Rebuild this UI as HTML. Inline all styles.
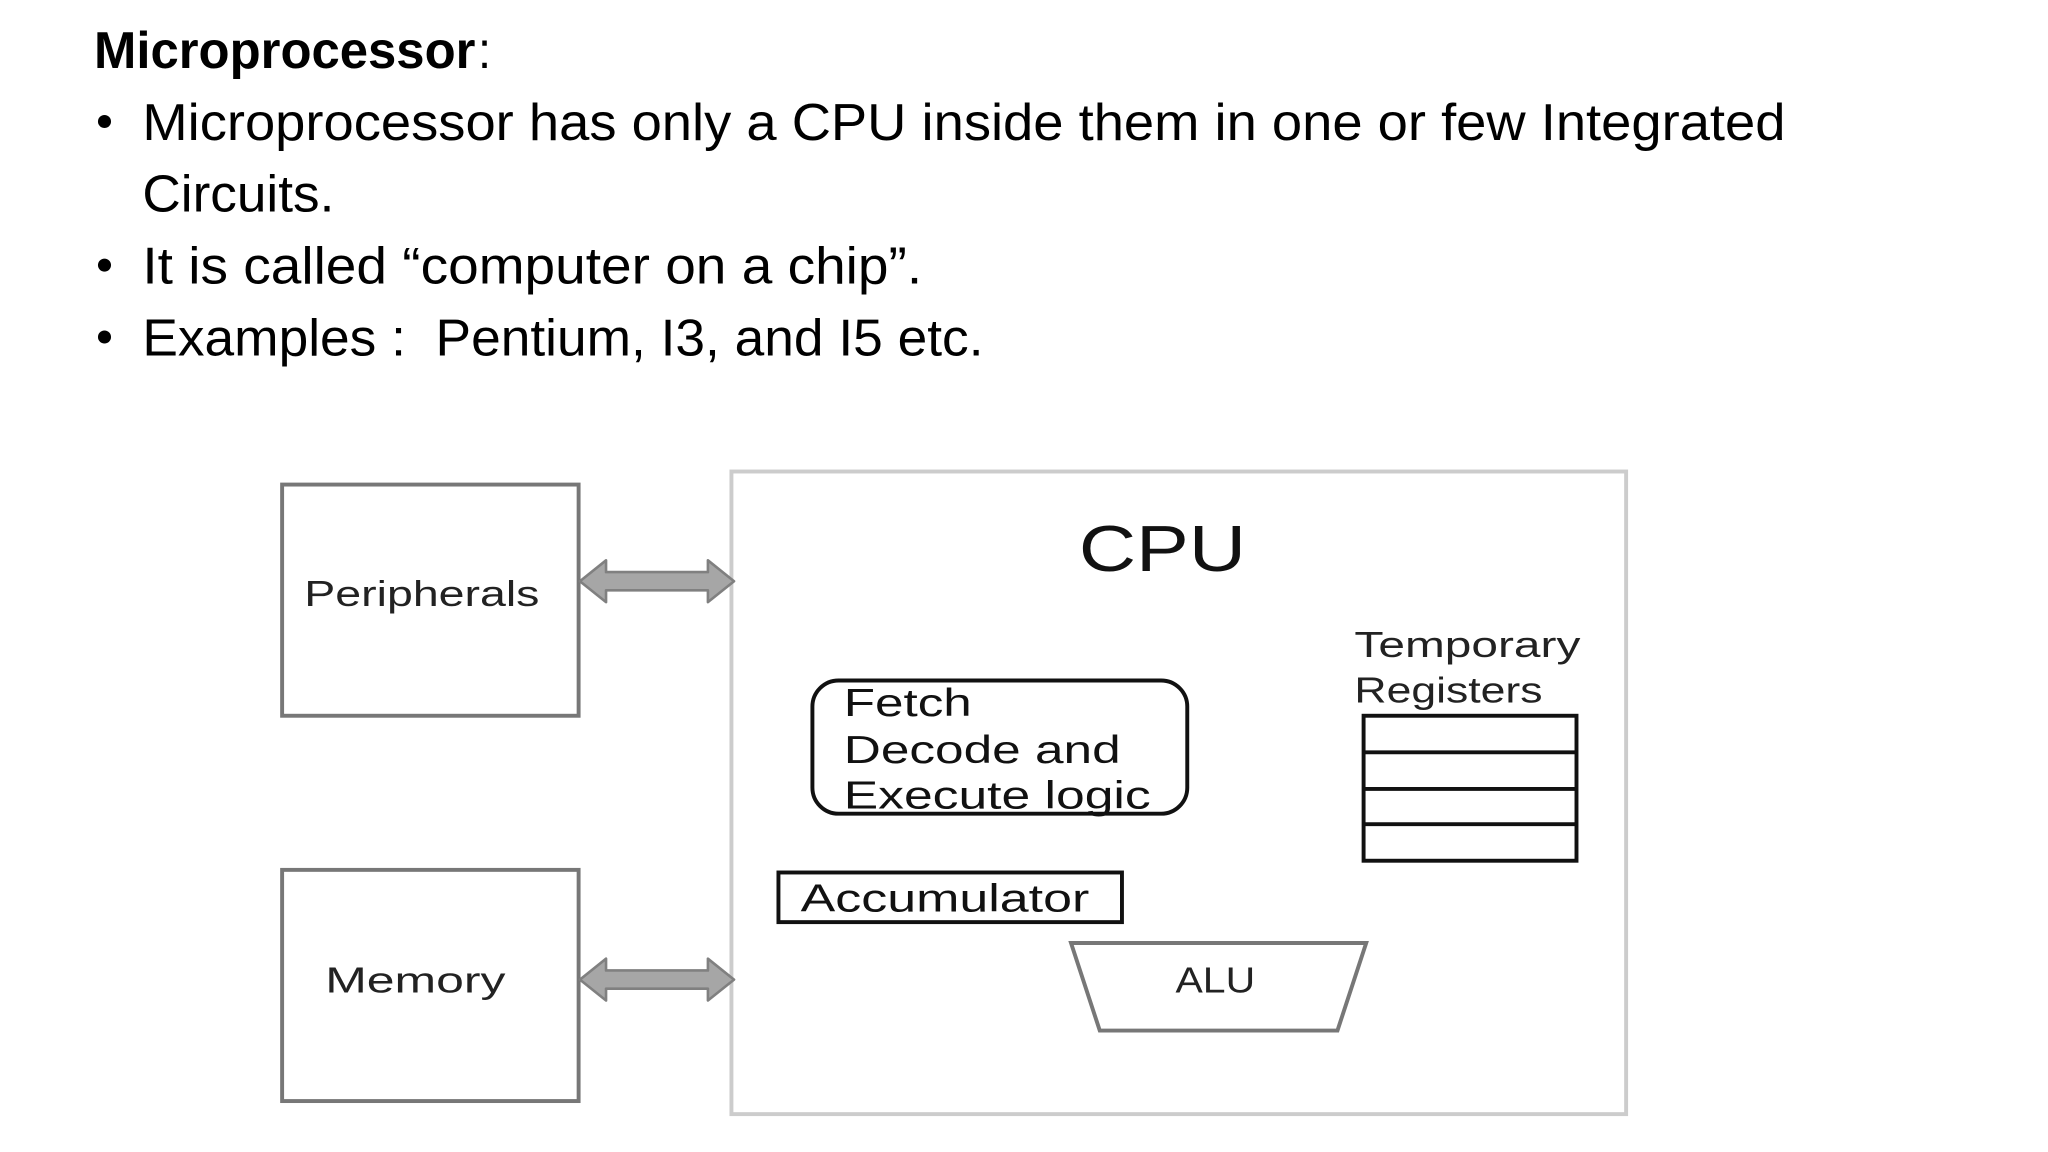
<!DOCTYPE html>
<html><head><meta charset="utf-8"><style>
html,body{margin:0;padding:0;background:#fff;}
svg{display:block;}
</style></head><body>
<svg width="2048" height="1152" viewBox="0 0 1568 882" xmlns="http://www.w3.org/2000/svg" font-family="Liberation Sans, sans-serif">
<rect width="1568" height="882" fill="#fff"/>
<g fill="#000" font-size="40">
<text x="72" y="52" font-weight="bold" textLength="292" lengthAdjust="spacingAndGlyphs">Microprocessor</text>
<text x="366" y="52" textLength="10" lengthAdjust="spacingAndGlyphs">:</text>
<circle cx="80" cy="93" r="5"/>
<text x="109" y="107" textLength="1258" lengthAdjust="spacingAndGlyphs">Microprocessor has only a CPU inside them in one or few Integrated</text>
<text x="109" y="162" textLength="147" lengthAdjust="spacingAndGlyphs">Circuits.</text>
<circle cx="80" cy="203" r="5"/>
<text x="109" y="217" textLength="597" lengthAdjust="spacingAndGlyphs">It is called “computer on a chip”.</text>
<circle cx="80" cy="258" r="5"/>
<text x="109" y="272" textLength="644" lengthAdjust="spacingAndGlyphs" xml:space="preserve">Examples :  Pentium, I3, and I5 etc.</text>
</g>
<!-- boxes -->
<rect x="216" y="371" width="227" height="177" fill="none" stroke="#777" stroke-width="3"/>
<rect x="216" y="666" width="227" height="177" fill="none" stroke="#777" stroke-width="3"/>
<rect x="560" y="361" width="685" height="492" fill="none" stroke="#ccc" stroke-width="3"/>
<text x="233" y="464" font-size="28" fill="#222" textLength="180" lengthAdjust="spacingAndGlyphs">Peripherals</text>
<text x="249" y="760" font-size="28" fill="#222" textLength="138" lengthAdjust="spacingAndGlyphs">Memory</text>
<text x="826" y="437" font-size="50" fill="#111" textLength="128" lengthAdjust="spacingAndGlyphs">CPU</text>
<!-- arrows -->
<g fill="#a6a6a6" stroke="#808080" stroke-width="2" stroke-linejoin="round">
<path d="M444,445 L464,429 L464,438 L542,438 L542,429 L562,445 L542,461 L542,452 L464,452 L464,461 Z"/>
<path d="M444,750 L464,734 L464,743 L542,743 L542,734 L562,750 L542,766 L542,757 L464,757 L464,766 Z"/>
</g>
<!-- fetch -->
<rect x="622" y="521" width="287" height="102" rx="20" fill="none" stroke="#111" stroke-width="3"/>
<g font-size="30" fill="#111">
<text x="646" y="548" textLength="98" lengthAdjust="spacingAndGlyphs">Fetch</text>
<text x="646" y="584" textLength="212" lengthAdjust="spacingAndGlyphs">Decode and</text>
<text x="646" y="619" textLength="235" lengthAdjust="spacingAndGlyphs">Execute logic</text>
</g>
<g font-size="28" fill="#222">
<text x="1037" y="503" textLength="173" lengthAdjust="spacingAndGlyphs">Temporary</text>
<text x="1037" y="538" textLength="144" lengthAdjust="spacingAndGlyphs">Registers</text>
</g>
<rect x="1044" y="548" width="163" height="111" fill="none" stroke="#111" stroke-width="3"/>
<g stroke="#111" stroke-width="3">
<line x1="1044" y1="576" x2="1207" y2="576"/>
<line x1="1044" y1="604" x2="1207" y2="604"/>
<line x1="1044" y1="631" x2="1207" y2="631"/>
</g>
<rect x="596" y="668" width="263" height="38" fill="none" stroke="#111" stroke-width="3"/>
<text x="613" y="698" font-size="30" fill="#111" textLength="221" lengthAdjust="spacingAndGlyphs">Accumulator</text>
<path d="M820,722 L1046,722 L1024,789 L842,789 Z" fill="none" stroke="#777" stroke-width="3"/>
<text x="900" y="760" font-size="28" fill="#222" textLength="61" lengthAdjust="spacingAndGlyphs">ALU</text>
</svg>
</body></html>
